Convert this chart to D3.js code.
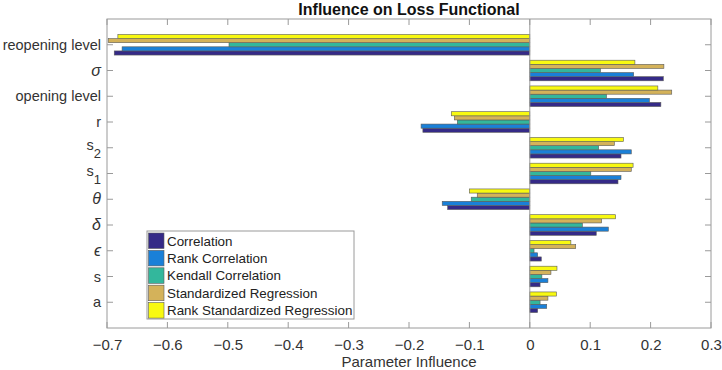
<!DOCTYPE html>
<html>
<head>
<meta charset="utf-8">
<script src="https://cdn.jsdelivr.net/npm/d3@7"></script>
<style>
  body { margin: 0; background: #fff; }
  text { font-family: "Liberation Sans", Arial, sans-serif; }
</style>
</head>
<body>
<svg id="chart" width="722" height="370"></svg>
<script>
// Categories bottom to top (MATLAB order 1..11)
const categories = ["a", "s", "epsilon", "delta", "theta", "s1", "s2", "r", "opening level", "sigma", "reopening level"];
const seriesNames = ["Correlation", "Rank Correlation", "Kendall Correlation", "Standardized Regression", "Rank Standardized Regression"];
const correlation     = [0.013, 0.017, 0.019, 0.110, -0.136, 0.146, 0.151, -0.177, 0.217, 0.221, -0.688];
const rankCorrelation = [0.028, 0.030, 0.013, 0.130, -0.145, 0.151, 0.168, -0.180, 0.198, 0.172, -0.675];
const kendall         = [0.017, 0.020, 0.007, 0.087, -0.097, 0.101, 0.114, -0.120, 0.127, 0.117, -0.498];
const stdRegression   = [0.030, 0.035, 0.076, 0.119, -0.087, 0.168, 0.140, -0.125, 0.235, 0.222, -0.698];
const rankStdRegr     = [0.044, 0.045, 0.068, 0.142, -0.100, 0.171, 0.155, -0.130, 0.212, 0.174, -0.682];
const seriesValues = [correlation, rankCorrelation, kendall, stdRegression, rankStdRegr];
const xTicks = [-0.7, -0.6, -0.5, -0.4, -0.3, -0.2, -0.1, 0, 0.1, 0.2, 0.3];
const colors = ["#352a87", "#1a80d8", "#33b79c", "#d4b25a", "#f8f911"];

const svg = d3.select("#chart");
const L = 107, R = 711, T = 19, B = 328;
const x = d3.scaleLinear().domain([-0.7, 0.3]).range([L, R]);
const y = d3.scaleLinear().domain([0, 12]).range([B, T]);
const axisColor = "#9a9a9a";

// bars
const barH = 0.16;
seriesValues.forEach((vals, s) => {
  svg.append("g").selectAll("rect").data(vals).join("rect")
    .attr("x", d => x(Math.min(0, d)))
    .attr("width", d => Math.abs(x(d) - x(0)))
    .attr("y", (d, i) => y(i + 1 - 0.4 + (s + 1) * barH))
    .attr("height", y(0) - y(barH))
    .attr("fill", colors[s])
    .attr("stroke", "#5a5a5a")
    .attr("stroke-width", 0.6);
});

// baseline
svg.append("line").attr("x1", x(0)).attr("x2", x(0)).attr("y1", T).attr("y2", B)
  .attr("stroke", axisColor).attr("stroke-width", 1);

// box
svg.append("rect").attr("x", L).attr("y", T).attr("width", R - L).attr("height", B - T)
  .attr("fill", "none").attr("stroke", axisColor).attr("stroke-width", 1);

// x axis bottom
const xAxis = d3.axisBottom(x).tickValues(xTicks).tickSize(0).tickPadding(11)
  .tickFormat(d => d === 0 ? "0" : d3.format("")(+d.toFixed(1)));
const gx = svg.append("g").attr("transform", `translate(0,${B})`).call(xAxis);
gx.select(".domain").remove();
gx.selectAll("text").attr("font-size", 15).attr("fill", "#333");
// inward ticks bottom & top
xTicks.forEach(t => {
  svg.append("line").attr("x1", x(t)).attr("x2", x(t)).attr("y1", B).attr("y2", B - 6).attr("stroke", axisColor);
  svg.append("line").attr("x1", x(t)).attr("x2", x(t)).attr("y1", T).attr("y2", T + 6).attr("stroke", axisColor);
});

// y axis ticks
const yIdx = d3.range(1, 12);
yIdx.forEach(i => {
  svg.append("line").attr("x1", L).attr("x2", L + 6).attr("y1", y(i)).attr("y2", y(i)).attr("stroke", axisColor);
  svg.append("line").attr("x1", R).attr("x2", R - 6).attr("y1", y(i)).attr("y2", y(i)).attr("stroke", axisColor);
});

// y labels
const gy = svg.append("g");
categories.forEach((c, i) => {
  const t = gy.append("text").attr("x", L - 6).attr("y", y(i + 1) + 5)
    .attr("text-anchor", "end").attr("font-size", 14.5).attr("fill", "#333");
  const greek = { sigma: "σ", theta: "θ", delta: "δ", epsilon: "ϵ" };
  if (greek[c]) {
    t.text(greek[c]).attr("font-family", "'Liberation Serif', 'DejaVu Serif', serif").attr("font-style", "italic").attr("font-size", 16);
  } else if (c === "s1" || c === "s2") {
    t.attr("y", y(i + 1) + 2);
    t.append("tspan").text("s");
    t.append("tspan").attr("dy", 8).attr("font-size", 13).text(c[1]);
  } else {
    t.text(c);
  }
});

// title
svg.append("text").attr("x", (L + R) / 2).attr("y", 15).attr("text-anchor", "middle")
  .attr("font-size", 16).attr("font-weight", "bold").attr("fill", "#111")
  .text("Influence on Loss Functional");

// x label
svg.append("text").attr("x", (L + R) / 2).attr("y", 367).attr("text-anchor", "middle")
  .attr("font-size", 15).attr("fill", "#333").text("Parameter Influence");

// legend
const lg = svg.append("g");
lg.append("rect").attr("x", 147).attr("y", 231).attr("width", 207).attr("height", 88)
  .attr("fill", "#fff").attr("stroke", axisColor);
seriesNames.forEach((n, s) => {
  const yy = 233 + s * 17.4;
  lg.append("rect").attr("x", 148.5).attr("y", yy).attr("width", 15.5).attr("height", 15.5)
    .attr("fill", colors[s]).attr("stroke", "#5a5a5a").attr("stroke-width", 0.6);
  lg.append("text").attr("x", 167).attr("y", yy + 12.5).attr("font-size", 13.4).attr("fill", "#222").text(n);
});
</script>
</body>
</html>
